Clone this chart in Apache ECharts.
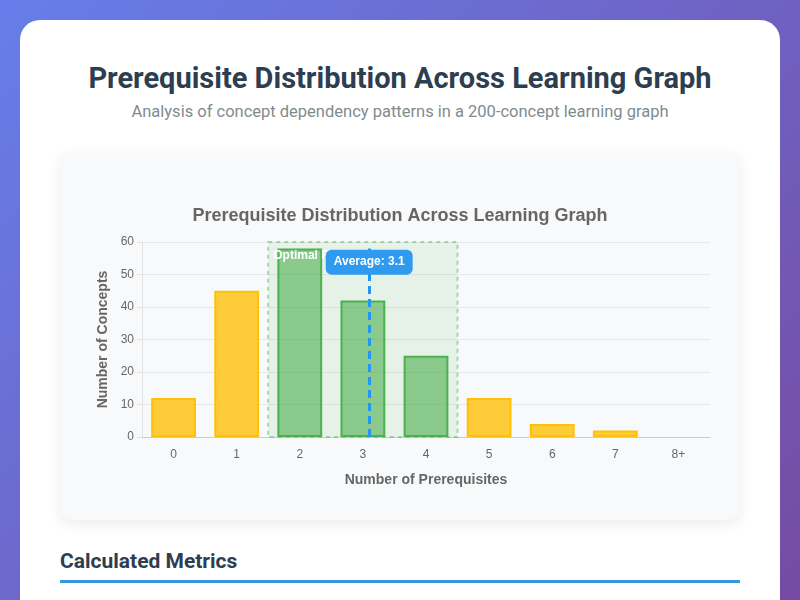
<!DOCTYPE html>
<html lang="en">
<head>
<meta charset="utf-8" />
<title>Prerequisite Distribution</title>
<script src="https://cdn.jsdelivr.net/npm/echarts@6/dist/echarts.min.js"></script>
<style>
	html, body { margin: 0; padding: 0; }
	body {
		width: 800px; height: 600px; overflow: hidden;
		background: linear-gradient(135deg, #667eea 0%, #764ba2 100%);
		font-family: Roboto, "Liberation Sans", Arial, sans-serif;
	}
	.card {
		position: absolute; left: 20px; top: 20px; width: 760px; height: 640px;
		background: #fff; border-radius: 20px;
	}
	h1 {
		margin: 0; position: absolute; left: 0; right: 0; top: 41px;
		text-align: center; font-size: 29px; font-weight: 700; color: #2c3e50;
	}
	.sub {
		position: absolute; left: 0; right: 0; top: 82px;
		text-align: center; font-size: 16.5px; color: #7f8c8d;
	}
	.box {
		position: absolute; left: 40px; top: 132px; width: 680px; height: 368px;
		background: #f8f9fa; border-radius: 12px;
		box-shadow: 0 4px 15px rgba(0,0,0,0.08);
	}
	#chart { width: 680px; height: 368px; }
	h2 {
		margin: 0; position: absolute; left: 40px; top: 529px; width: 680px;
		font-size: 21px; font-weight: 700; color: #2c3e50;
		padding-bottom: 7px; border-bottom: 3px solid #3498db;
	}
</style>
</head>
<body>
<div class="card">
	<h1>Prerequisite Distribution Across Learning Graph</h1>
	<div class="sub">Analysis of concept dependency patterns in a 200-concept learning graph</div>
	<div class="box"><div id="chart"></div></div>
	<h2>Calculated Metrics</h2>
</div>
<script>
// data
var categories = ['0', '1', '2', '3', '4', '5', '6', '7', '8+'];
var counts = [12, 45, 58, 42, 25, 12, 4, 2, 0];
var optimalRange = [2, 4];       // categories inside the optimal zone
var averagePrereq = 3.1;
var yTicks = { min: 0, max: 60, interval: 10 };

var chart = echarts.init(document.getElementById('chart'));

function inOptimal(i) { return i >= optimalRange[0] && i <= optimalRange[1]; }

var barData = counts.map(function (v, i) {
	var green = inOptimal(i);
	return {
		value: v,
		itemStyle: {
			color: green ? 'rgba(76,175,80,0.6)' : 'rgba(255,193,7,0.8)',
			borderColor: green ? '#4caf50' : '#ffc107',
			borderWidth: v > 0 ? 2 : 0
		}
	};
});

var axisFont = '"Liberation Sans", Arial, sans-serif';

var option = {
	animation: false,
	textStyle: { fontFamily: axisFont },
	title: {
		text: 'Prerequisite Distribution Across Learning Graph',
		left: 'center', top: 50,
		textStyle: { color: '#666', fontSize: 18, fontWeight: 'bold' }
	},
	grid: { left: 82, right: 30, top: 90, bottom: 83 },
	xAxis: [{
		type: 'category',
		data: categories,
		name: 'Number of Prerequisites',
		nameLocation: 'middle',
		nameGap: 36,
		nameTextStyle: { color: '#666', fontSize: 14, fontWeight: 'bold' },
		axisLine: { lineStyle: { color: '#ccc' } },
		axisTick: { show: false },
		axisLabel: { color: '#666', fontSize: 12, margin: 12 }
	}, {
		// hidden value axis so the zone and the average sit between/at band positions
		type: 'value',
		min: -0.5, max: categories.length - 0.5,
		show: false
	}],
	yAxis: {
		type: 'value',
		min: yTicks.min, max: yTicks.max, interval: yTicks.interval,
		name: 'Number of Concepts',
		nameLocation: 'middle',
		nameGap: 31,
		nameTextStyle: { color: '#666', fontSize: 14, fontWeight: 'bold' },
		axisLine: { show: true, onZero: false, lineStyle: { color: '#e3e3e3' } },
		axisLabel: { color: '#666', fontSize: 12 },
		splitLine: { lineStyle: { color: '#e8e8e8' } }
	},
	series: [{
		type: 'line',
		xAxisIndex: 1,
		data: [],
		silent: true,
		z: 1,
		markArea: {
			silent: true,
			itemStyle: {
				color: 'rgba(76,175,80,0.1)',
				borderColor: 'rgba(76,175,80,0.45)',
				borderWidth: 2,
				borderType: [4, 4]
			},
			label: { show: false },
			data: [[
				{ xAxis: optimalRange[0] - 0.5, yAxis: yTicks.max },
				{ xAxis: optimalRange[1] + 0.5, yAxis: yTicks.min }
			]]
		}
	}, {
		type: 'bar',
		data: barData,
		barCategoryGap: '29%',
		z: 2
	}, {
		// zone caption, drawn above the bars
		type: 'line',
		xAxisIndex: 1,
		data: [],
		silent: true,
		z: 3,
		markPoint: {
			silent: true,
			data: [{
				coord: [optimalRange[0] - 0.5, yTicks.max],
				symbol: 'rect', symbolSize: 0,
				label: {
					show: true, position: [5, 8],
					color: '#fff', fontWeight: 'bold', fontSize: 12,
					formatter: 'Optimal Range'
				}
			}]
		}
	}, {
		type: 'line',
		xAxisIndex: 1,
		data: [],
		silent: true,
		z: 5,
		markLine: {
			silent: true,
			symbol: 'none',
			lineStyle: { color: '#2196f3', width: 3, type: [8, 5] },
			label: { show: false },
			data: [[
				{ coord: [averagePrereq, yTicks.min] },
				{ coord: [averagePrereq, 58] }
			]]
		},
		markPoint: {
			silent: true,
			data: [{
				coord: [averagePrereq, 53.8],
				symbol: 'rect', symbolSize: 0,
				label: {
					show: true, position: 'inside',
					color: '#fff', fontWeight: 'bold', fontSize: 12,
					backgroundColor: '#2f9af0',
					borderRadius: 6,
					padding: [7, 8, 6, 8],
					formatter: 'Average: ' + averagePrereq
				}
			}]
		}
	}]
};

chart.setOption(option);
window.onresize = function () { chart.resize(); };
</script>
</body>
</html>
